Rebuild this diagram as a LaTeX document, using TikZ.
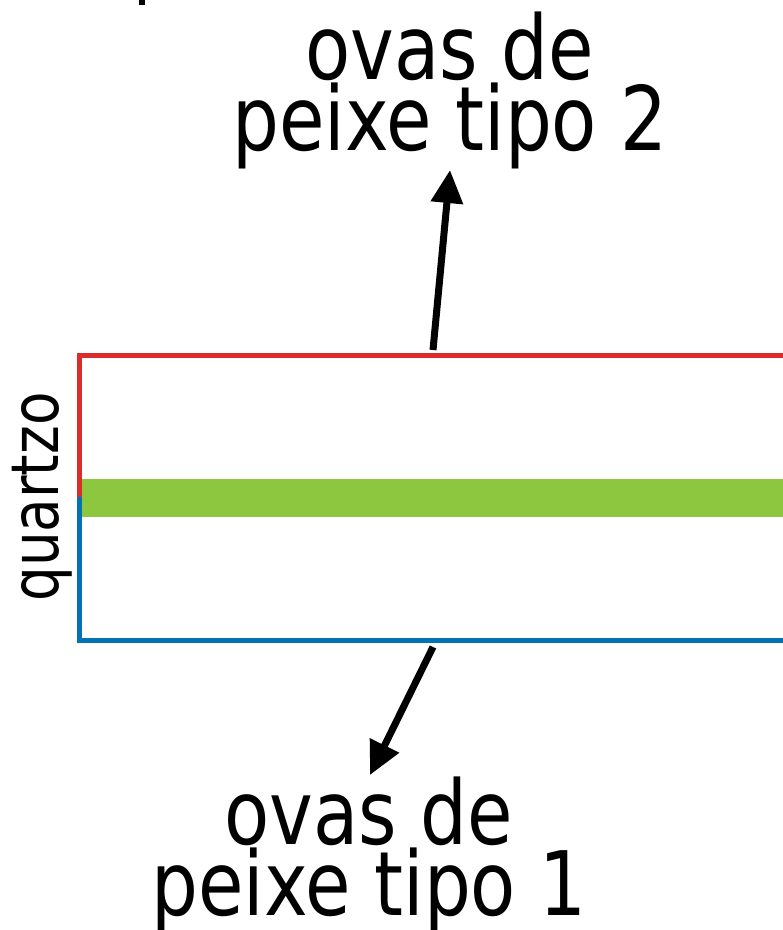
\documentclass[tikz,border=0pt]{standalone}
\usepackage{fontspec}
\setmainfont{DejaVu Sans}[FakeStretch=0.83]
\usetikzlibrary{arrows.meta}
\definecolor{redline}{HTML}{DC2B2B}
\definecolor{blueline}{HTML}{0072B5}
\definecolor{greenband}{HTML}{8DC63F}
\tikzset{
  lbl/.style={inner sep=0pt, anchor=base, align=center, font=\fontsize{89}{71}\selectfont},
  sidelbl/.style={inner sep=0pt, anchor=base, rotate=90, font=\fontsize{66}{66}\selectfont},
  edgeline/.style={line width=5pt},
  pointer/.style={line width=7pt, -{Triangle[length=33pt,width=31pt]}},
}
\begin{document}
\begin{tikzpicture}[x=1pt,y=-1pt]
\useasboundingbox (0,0) rectangle (783,930);
% cut-off mark at top
\fill[black] (139,0) rectangle (145,5);
% green band
\fill[greenband] (79,479) rectangle (783,517);
% red border
\draw[edgeline, redline] (79,497) -- (79,355) -- (783,355);
% blue border
\draw[edgeline, blueline] (79,497) -- (79,640.5) -- (783,640.5);
% labels (base = baseline of the last line)
\node[lbl] (top) at (450,150) {ovas de\\peixe tipo 2};
\node[lbl] (bottom) at (369,915) {ovas de\\peixe tipo 1};
\node[sidelbl] (q) at (58,497) {quartzo};
% arrows
\coordinate (upstart) at (433,350);
\coordinate (uptip) at (450,170);
\coordinate (downstart) at (433,647);
\coordinate (downtip) at (370,775);
\draw[pointer] (upstart) -- (uptip);
\draw[pointer] (downstart) -- (downtip);
\end{tikzpicture}
\end{document}
